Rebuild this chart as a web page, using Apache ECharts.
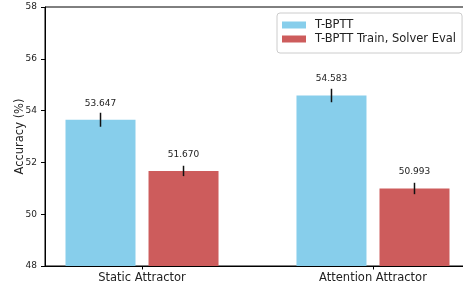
<!DOCTYPE html>
<html>
<head>
<meta charset="utf-8">
<script src="https://cdn.jsdelivr.net/npm/echarts@6/dist/echarts.min.js"></script>
<style>
    html, body { margin: 0; padding: 0; background: #fff; }
    #chart { width: 463px; height: 285px; }
</style>
</head>
<body>
<div id="chart"></div>
<script>
    // values
    var categories = ['Static Attractor', 'Attention Attractor'];
    var seriesNames = ['T-BPTT', 'T-BPTT Train, Solver Eval'];
    var tbptt = [53.647, 54.583];
    var tbpttErr = [0.27, 0.26];
    var solverEval = [51.670, 50.993];
    var solverErr = [0.20, 0.22];
    var yTicks = [48, 50, 52, 54, 56, 58];

    var barW = 70, gapPx = 13;
    var font = 'DejaVu Sans';

    function barData(vals) {
        return vals.map(function (v, i) { return [i, v]; });
    }

    function errData(vals, errs) {
        return vals.map(function (v, i) { return [i, v - errs[i], v + errs[i]]; });
    }

    function errSeries(vals, errs, side) {
        return {
            type: 'custom',
            data: errData(vals, errs),
            z: 10,
            renderItem: function (params, api) {
                var lo = api.coord([api.value(0), api.value(1)]);
                var hi = api.coord([api.value(0), api.value(2)]);
                var dx = side * (barW + gapPx) / 2;
                return {
                    type: 'line',
                    shape: { x1: lo[0] + dx, y1: lo[1], x2: hi[0] + dx, y2: hi[1] },
                    style: { stroke: '#111', lineWidth: 1.5 }
                };
            }
        };
    }

    var label = {
        show: true,
        position: 'top',
        distance: 12,
        fontFamily: font,
        fontSize: 9,
        color: '#222',
        formatter: function (p) { return p.value[1].toFixed(3); }
    };

    var myChart = echarts.init(document.getElementById('chart'));
    var option = {
        animation: false,
        textStyle: { fontFamily: font },
        grid: {
            left: 45, top: 7, bottom: 19, width: 425,
            show: true, borderColor: '#000', borderWidth: 1,
            outerBoundsMode: 'none'
        },
        legend: {
            orient: 'vertical',
            left: 277, top: 13,
            padding: [6, 6, 8, 5],
            itemWidth: 24, itemHeight: 7, itemGap: 2,
            icon: 'rect',
            borderColor: '#ccc', borderWidth: 1, borderRadius: 3,
            backgroundColor: 'rgba(255,255,255,0.8)',
            textStyle: { fontFamily: font, fontSize: 11.5, color: '#222', padding: [0, 0, 0, 4] },
            data: seriesNames
        },
        xAxis: {
            type: 'value',
            min: -0.42, max: 1.42,
            splitLine: { show: false },
            axisLine: { onZero: false, lineStyle: { color: '#000', width: 1 } },
            axisTick: { show: true, length: 3.5, customValues: [0, 1], lineStyle: { color: '#000' } },
            axisLabel: {
                customValues: [0, 1],
                margin: 6,
                fontFamily: font, fontSize: 11.5, color: '#222',
                formatter: function (v) { return categories[Math.round(v)] || ''; }
            }
        },
        yAxis: {
            type: 'value',
            min: yTicks[0], max: yTicks[yTicks.length - 1], interval: 2,
            name: 'Accuracy (%)',
            nameLocation: 'middle',
            nameGap: 19,
            nameMoveOverlap: false,
            nameTextStyle: { fontFamily: font, fontSize: 11.5, color: '#222' },
            splitLine: { show: false },
            axisLine: { show: true, onZero: false, lineStyle: { color: '#000', width: 1 } },
            axisTick: { show: true, length: 4, lineStyle: { color: '#000' } },
            axisLabel: { margin: 8, fontFamily: font, fontSize: 9, color: '#222' }
        },
        series: [
            {
                name: seriesNames[0],
                type: 'bar',
                data: barData(tbptt),
                barWidth: barW,
                barGap: (gapPx / barW * 100).toFixed(1) + '%',
                itemStyle: { color: '#87CEEB' },
                label: label
            },
            {
                name: seriesNames[1],
                type: 'bar',
                data: barData(solverEval),
                barWidth: barW,
                itemStyle: { color: '#CD5C5C' },
                label: label
            },
            errSeries(tbptt, tbpttErr, -1),
            errSeries(solverEval, solverErr, 1)
        ]
    };
    myChart.setOption(option);
</script>
</body>
</html>
